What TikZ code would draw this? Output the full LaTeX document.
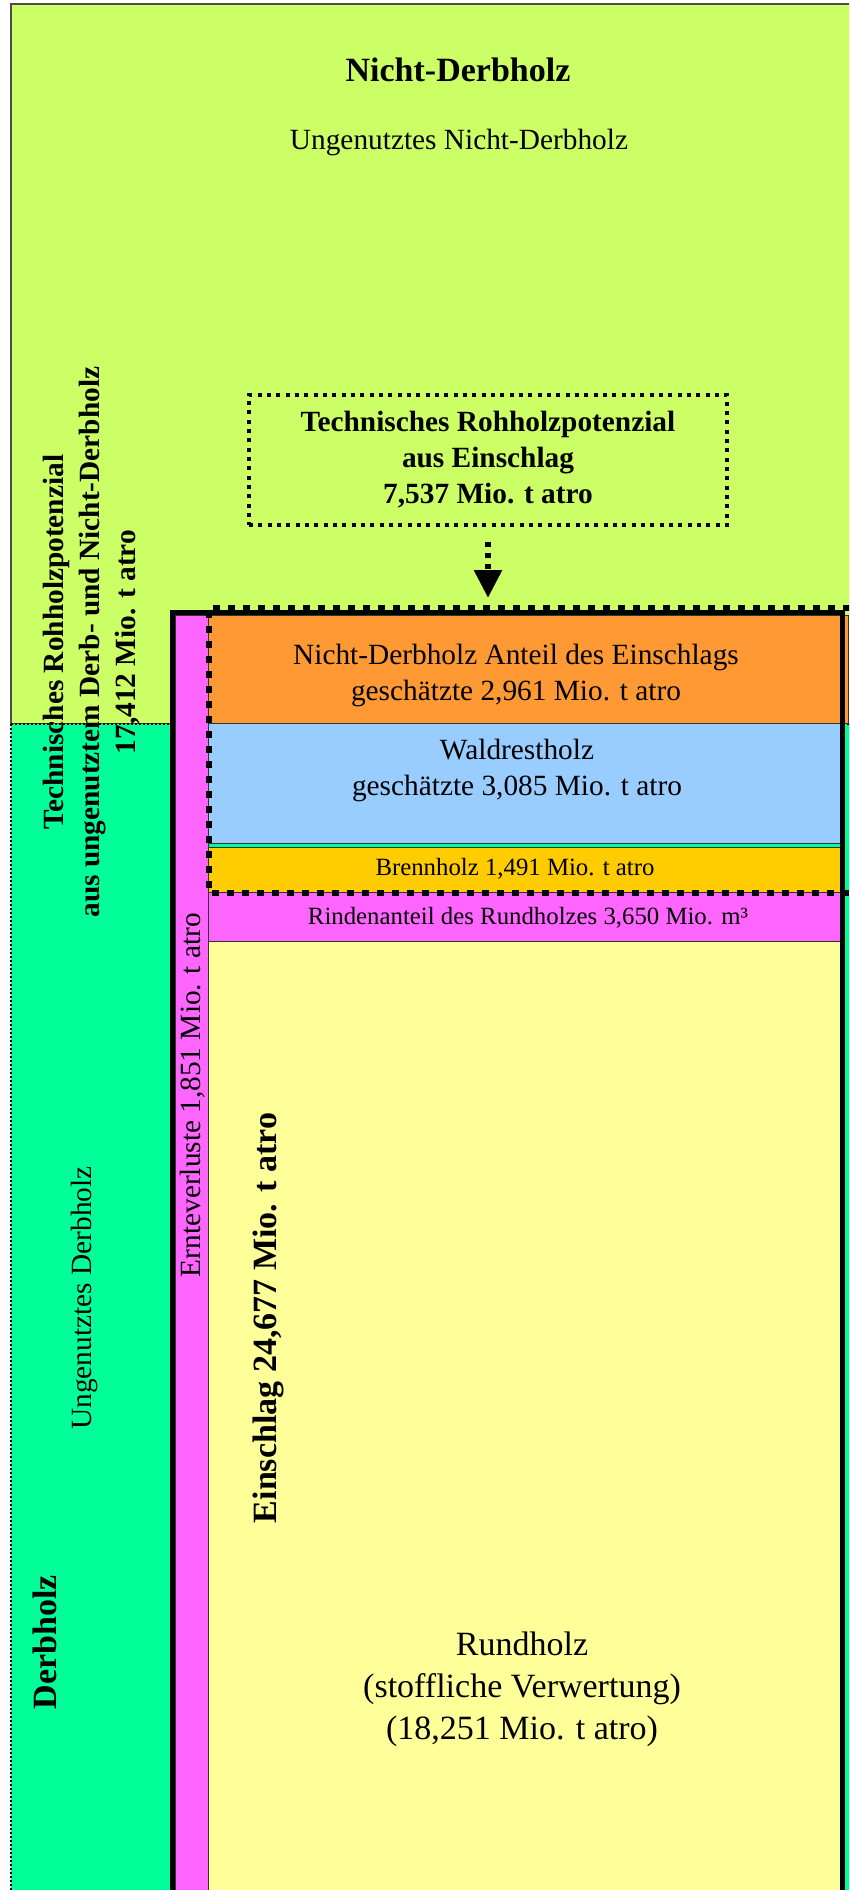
\documentclass[tikz,border=0pt]{standalone}
\usepackage{fontspec}
\setmainfont{Liberation Serif}
\usetikzlibrary{arrows.meta}
\definecolor{ndlime}{HTML}{CCFF66}
\definecolor{dhmint}{HTML}{00FF99}
\definecolor{ndorange}{HTML}{FF9933}
\definecolor{wrblue}{HTML}{99CCFF}
\definecolor{bhgold}{HTML}{FFCC00}
\definecolor{rdpink}{HTML}{FF66FF}
\definecolor{rhyellow}{HTML}{FFFF99}
\newcommand{\woodnormal}{\fontsize{22}{27}\selectfont}
\newcommand{\woodlarge}{\fontsize{25.5}{31.5}\selectfont}
\newcommand{\woodsmall}{\fontsize{18.6}{22}\selectfont}
\tikzset{
  woodlayer/.style={draw=black!80, line width=0.75pt},
  woodtext/.style={align=center, inner sep=0pt, font=\woodnormal},
  woodbold/.style={woodtext, font=\woodnormal\bfseries},
  woodtitle/.style={woodtext, font=\woodlarge\bfseries},
  woodbig/.style={woodtext, font=\woodlarge},
  woodsmalltext/.style={woodtext, font=\woodsmall},
  uptext/.style={rotate=90}
}
\begin{document}
\begin{tikzpicture}[
    x=0.75pt, y=-0.75pt,
    % one unit is one pixel of the sheet, counted from the top left
    potbox/.style={draw, line width=3pt, dash pattern=on 3pt off 4pt,
                   minimum width=358.5pt, minimum height=97.5pt},
    harvest/.style={draw, line width=3.75pt},
    harvestpot/.style={draw, line width=4.5pt, dash pattern=on 5.25pt off 6pt},
    potarrow/.style={draw, line width=5pt, dash pattern=on 3.75pt off 4.5pt,
                     -{Triangle[width=20pt, length=21pt]}}
]
  \useasboundingbox (0,0) rectangle (849,1890);
  \clip (0,0) rectangle (849,1890);
  % The two halves of the stand: Nicht-Derbholz above, Derbholz below.
  \draw[fill=ndlime, draw=black!70, line width=1.5pt] (11,4) rectangle (880,724);
  \draw[fill=dhmint, line width=1.5pt, dash pattern=on 1.5pt off 1.5pt]
    (11,724) rectangle (880,1910);
  % The harvest column and its layers.
  \fill[woodlayer, fill=rdpink] (175,615) rectangle (208.5,1910);
  \draw[woodlayer, fill=ndorange] (208.5,615) rectangle (848,723);
  \draw[woodlayer, fill=wrblue] (208.5,723) rectangle (843,843);
  \draw[woodlayer, fill=dhmint] (208.5,843) rectangle (843,847);
  \draw[woodlayer, fill=bhgold] (208.5,847) rectangle (843,892.5);
  \draw[woodlayer, fill=rdpink] (208.5,892.5) rectangle (843,941);
  \draw[woodlayer, fill=rhyellow] (208.5,941) rectangle (843,1910);
  \draw[woodlayer] (208.5,892.5) -- (208.5,1910);
  \draw[harvest] (172.5,1910) -- (172.5,612.5) -- (842.5,612.5) -- (842.5,1910);
  \draw[harvestpot] (880,607.5) -- (208.5,607.5) -- (208.5,892.5) -- (880,892.5);
  \coordinate (potend) at (490,598);

  % Texts of the upper half.
  \node[woodtitle] (ndtitle) at (458,70) {Nicht-Derbholz};
  \node[woodtext] (ndunused) at (459,142) {Ungenutztes Nicht-Derbholz};
  \node[potbox, woodbold] (pot) at (488,460)
    {Technisches Rohholzpotenzial\\aus Einschlag\\7,537 Mio. t atro};
  \draw[potarrow, shorten <=11.25pt] (pot.south) -- (pot.south |- potend);

  % Texts of the layers.
  \node[woodtext] (ndshare) at (516,675)
    {Nicht-Derbholz Anteil des Einschlags\\geschätzte 2,961 Mio. t atro};
  \node[woodtext] (residue) at (517,770)
    {Waldrestholz\\geschätzte 3,085 Mio. t atro};
  \node[woodsmalltext] (fuel) at (515,869) {Brennholz 1,491 Mio. t atro};
  \node[woodsmalltext] (bark) at (528,918) {Rindenanteil des Rundholzes 3,650 Mio. m³};
  \node[woodbig, text depth=0pt] (round) at (522,1686)
    {Rundholz\\(stoffliche Verwertung)\\(18,251 Mio. t atro)};

  % Vertical texts, reading upwards.
  \node[woodbold, uptext] (potall) at (92,642)
    {Technisches Rohholzpotenzial\\aus ungenutztem Derb- und Nicht-Derbholz\\17,412 Mio. t atro};
  \node[woodtext, uptext] (dhunused) at (84,1298) {Ungenutztes Derbholz};
  \node[woodtitle, uptext] (dhtitle) at (45,1642) {Derbholz};
  \node[woodtext, uptext] (losses) at (193,1095) {Ernteverluste 1,851 Mio. t atro};
  \node[woodtitle, uptext] (harvesttotal) at (268,1318) {Einschlag 24,677 Mio. t atro};
\end{tikzpicture}
\end{document}
